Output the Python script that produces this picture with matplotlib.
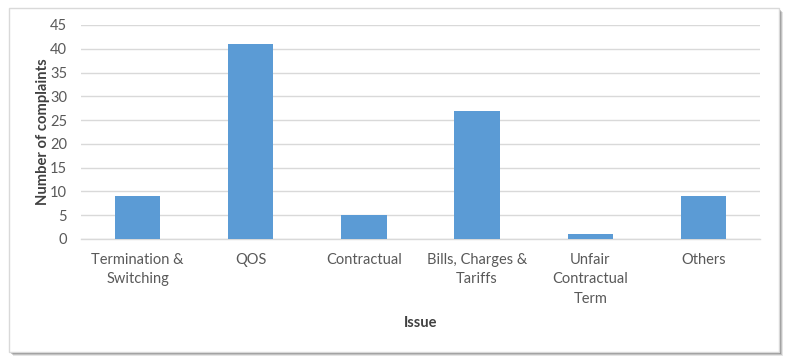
import matplotlib.pyplot as plt
from matplotlib.patches import Rectangle

issues = ["Termination &\nSwitching", "QOS", "Contractual",
          "Bills, Charges &\nTariffs", "Unfair\nContractual\nTerm", "Others"]
complaints = [9, 41, 5, 27, 1, 9]
y_ticks = [0, 5, 10, 15, 20, 25, 30, 35, 40, 45]

plt.rcParams['font.family'] = ['Lato', 'DejaVu Sans']

W, H = 792, 363
fig = plt.figure(figsize=(W / 100, H / 100), dpi=100)

# chart frame with a soft shadow (right / bottom)
for off, a in [(4, 0.10), (3, 0.15), (2, 0.22), (1, 0.30)]:
    fig.patches.append(Rectangle((9 / W + off / W, 1 - 352 / H - off / H),
                                 770 / W, 344 / H, transform=fig.transFigure,
                                 facecolor="#000000", alpha=a, edgecolor="none", zorder=0))
fig.patches.append(Rectangle((9 / W, 1 - 352 / H), 770 / W, 344 / H,
                             transform=fig.transFigure, facecolor="white",
                             edgecolor="#D9D9D9", linewidth=1, zorder=1))

ax = fig.add_axes([81 / W, 1 - 239 / H, 679 / W, 214 / H])
ax.set_zorder(5)
ax.set_facecolor("none")
x = range(len(issues))
ax.bar(x, complaints, width=0.4, color="#5B9BD5", zorder=3)

ax.set_xlim(-0.5, len(issues) - 0.5)
ax.set_ylim(0, 45)
ax.set_yticks(y_ticks)
ax.yaxis.grid(True, color="#D9D9D9", linewidth=1)
ax.set_axisbelow(True)
for s in ["top", "right", "left"]:
    ax.spines[s].set_visible(False)
ax.spines["bottom"].set_color("#D9D9D9")
ax.spines["bottom"].set_linewidth(1)

ax.set_xticks(list(x))
ax.set_xticklabels(issues, linespacing=1.5)
ax.tick_params(axis="both", length=0, colors="#595959", labelsize=10.5)
ax.tick_params(axis="x", pad=10)
ax.tick_params(axis="y", pad=10)

ax.set_xlabel("Issue", fontsize=10.5, fontweight="bold", color="#404040")
ax.set_ylabel("Number of complaints", fontsize=10.6, fontweight="bold", color="#404040")
ax.xaxis.set_label_coords(0.5, -(316 - 239) / 214)
ax.yaxis.set_label_coords(-(81 - 50) / 679, 0.5)

fig.savefig("out.png", dpi=100)
